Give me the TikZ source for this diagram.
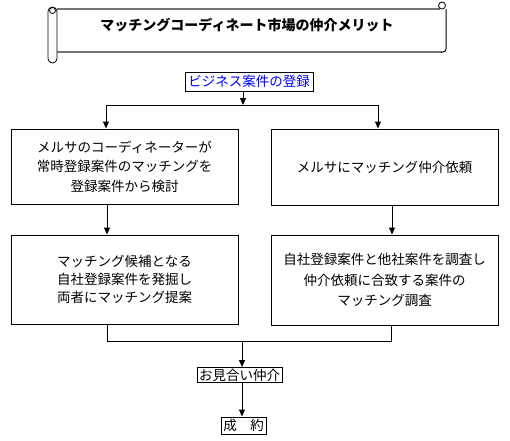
\documentclass[tikz,border=0pt]{standalone}
\usepackage{fontspec}
\setmainfont{Noto Sans CJK JP}
\usetikzlibrary{arrows.meta}
\begin{document}
\begin{tikzpicture}[x=1pt,y=-1pt,
  box/.style={draw, line width=1pt, minimum width=227pt, align=center, inner sep=0pt,
    font=\fontsize{13.5}{19.5}\selectfont},
  tag/.style={draw, line width=1pt, inner sep=0pt, font=\fontsize{13.5}{14}\selectfont},
  arr/.style={-{Triangle[length=7pt,width=6pt]}, line width=1pt},
  ln/.style={line width=1pt},
  scrollgray/.style={draw=black!55, line width=2pt}]
\useasboundingbox (0,0) rectangle (510,440);
% scroll banner
\draw[scrollgray] (57,9) -- (440,9);
\draw[scrollgray] (57,52) -- (442,52);
\draw[line width=1pt, rounded corners=3pt] (446,9) -- (446,52) -- (441,52);
\draw[line width=0.8pt, fill=white] (442,5.5) circle (3.5);
\draw[line width=0.8pt, fill=white, rounded corners=4.4pt] (48,7) rectangle (57,63);
\draw[line width=0.8pt] (52.5,10.5) circle (3);
\node[font=\bfseries\fontsize{14}{14}\selectfont] (title) at (247,25) {マッチングコーディネート市場の仲介メリット};
% nodes
\node[tag, text=blue, minimum width=128pt, minimum height=19pt] (reg) at (249,81.5) {ビジネス案件の登録};
\node[box, minimum height=75pt] (lb1) at (124.5,166.5) {メルサのコーディネーターが\\常時登録案件のマッチングを\\登録案件から検討};
\node[box, minimum height=89pt, font=\fontsize{13.5}{18}\selectfont] (lb2) at (124.5,279.5) {マッチング候補となる\\自社登録案件を発掘し\\両者にマッチング提案};
\node[box, minimum height=76pt] (rb1) at (384.5,167) {メルサにマッチング仲介依頼};
\node[box, minimum height=90pt, font=\fontsize{13.5}{20.5}\selectfont] (rb2) at (384.5,280) {自社登録案件と他社案件を調査し\\仲介依頼に合致する案件の\\マッチング調査};
\node[tag, minimum width=85pt, minimum height=15pt] (oma) at (239.5,375) {お見合い仲介};
\node[tag, minimum width=45pt, minimum height=17pt] (sei) at (243.5,425.5) {成　約};
% connectors
\coordinate (tj) at (243,105);
\coordinate (tl) at (106,105);
\coordinate (tr) at (378,105);
\coordinate (cl) at (107,0);
\coordinate (cr) at (392,0);
\coordinate (bl) at (107,341);
\coordinate (br) at (391,341);
\coordinate (bm) at (242,341);
\draw[arr] (reg.south -| tj) -- (tj);
\draw[ln] (tl) -- (tr);
\draw[arr] (tl) -- (tl |- lb1.north);
\draw[arr] (tr) -- (tr |- rb1.north);
\draw[arr] (cl |- lb1.south) -- (cl |- lb2.north);
\draw[arr] (cr |- rb1.south) -- (cr |- rb2.north);
\draw[ln] (bl |- lb2.south) -- (bl) -- (br) -- (br |- rb2.south);
\draw[arr] (bm) -- (bm |- oma.north);
\draw[arr] (bm |- oma.south) -- (bm |- sei.north);
\end{tikzpicture}
\end{document}
